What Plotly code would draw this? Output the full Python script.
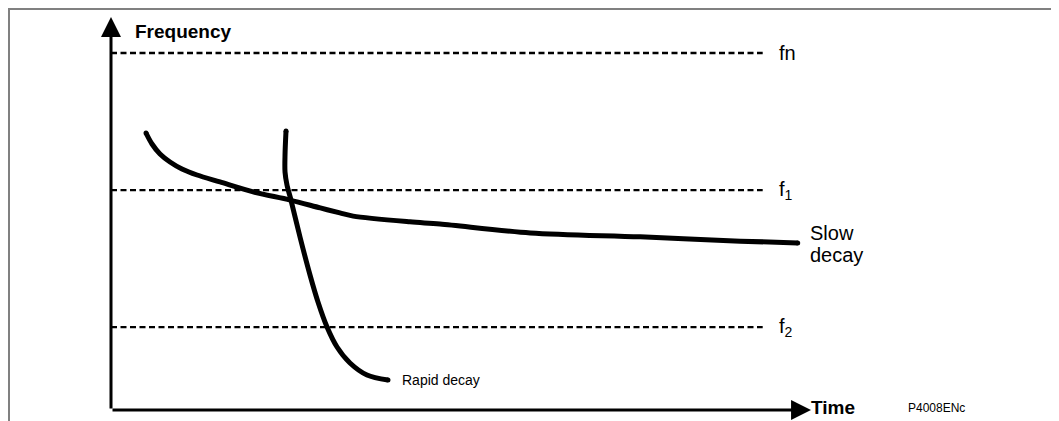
import plotly.graph_objects as go

# ---------------- data (arbitrary units: time 0..100, frequency 0..100 with fn = 100) ----
level_names = ["fn", "f1", "f2"]
level_values = [100.0, 61.6, 23.2]
level_labels = ["fn", "f<sub>1</sub>", "f<sub>2</sub>"]
level_end_time = 93.1

slow_t = [5.0, 5.86, 7.0, 8.43, 10.14, 12.29, 15.57, 20.3, 25.6, 29.9, 32.7, 34.6, 42.7, 47.0, 59.9, 75.6, 89.9, 98.1]
slow_f = [77.59, 74.51, 71.71, 69.47, 67.51, 65.83, 63.87, 61.1, 58.8, 56.6, 55.2, 54.3, 52.7, 52.1, 49.6, 48.5, 47.3, 46.8]

rapid_t = [25.0, 24.86, 24.86, 25.14, 25.71, 27.0, 28.43, 29.57, 30.86, 32.29, 34.14, 36.57, 39.57]
rapid_f = [78.15, 71.43, 66.67, 63.03, 58.82, 48.46, 37.82, 30.25, 23.25, 17.65, 13.17, 9.80, 8.40]

axis_time_max = 100.0
axis_freq_max = 110.1

# ---------------- figure geometry ----------------
# the page adds an 8 px body margin, so the figure is 8 px smaller on each axis
W, H = 1051, 413
ORIGIN_X, ORIGIN_Y = 103, 402          # pixel position of time=0 / freq=0 inside the figure
PX_PER_T, PX_PER_F = 7.0, 3.57
x_range = [-ORIGIN_X / PX_PER_T, (W - ORIGIN_X) / PX_PER_T]
y_range = [-(H - ORIGIN_Y) / PX_PER_F, ORIGIN_Y / PX_PER_F]

FONT = "Liberation Sans, Arial, Helvetica, sans-serif"

fig = go.Figure()

# dashed frequency levels
for name, val in zip(level_names, level_values):
    fig.add_trace(go.Scatter(
        x=[0, level_end_time], y=[val, val], mode="lines",
        line=dict(color="black", width=2.3, dash="6px,3.5px"),
        hoverinfo="skip", name=name))

# decay curves
fig.add_trace(go.Scatter(x=slow_t, y=slow_f, mode="lines",
                         line=dict(color="black", width=5, shape="spline", smoothing=0.9),
                         name="Slow decay", hoverinfo="skip"))
fig.add_trace(go.Scatter(x=rapid_t, y=rapid_f, mode="lines",
                         line=dict(color="black", width=5, shape="spline", smoothing=0.9),
                         name="Rapid decay", hoverinfo="skip"))
# round ends
fig.add_trace(go.Scatter(x=[slow_t[0], slow_t[-1], rapid_t[0], rapid_t[-1]],
                         y=[slow_f[0], slow_f[-1], rapid_f[0], rapid_f[-1]],
                         mode="markers", marker=dict(color="black", size=5),
                         hoverinfo="skip", showlegend=False))

annotations = []
# axis arrows
annotations.append(dict(x=0, y=axis_freq_max, ax=0, ay=0, xref="x", yref="y",
                        axref="x", ayref="y", text="", showarrow=True,
                        arrowhead=2, arrowwidth=3, arrowsize=1.33, arrowcolor="black",
                        standoff=0, startstandoff=0))
annotations.append(dict(x=axis_time_max, y=0, ax=0, ay=0, xref="x", yref="y",
                        axref="x", ayref="y", text="", showarrow=True,
                        arrowhead=2, arrowwidth=3, arrowsize=1.33, arrowcolor="black",
                        standoff=0, startstandoff=0))

# axis titles
annotations.append(dict(x=3.2, y=106.0, xref="x", yref="y", text="<b>Frequency</b>",
                        showarrow=False, xanchor="left", yanchor="middle",
                        font=dict(family=FONT, size=19, color="black")))
annotations.append(dict(x=99.7, y=0.84, xref="x", yref="y", text="<b>Time</b>",
                        showarrow=False, xanchor="left", yanchor="middle",
                        font=dict(family=FONT, size=19, color="black")))
annotations.append(dict(x=113.6, y=0.56, xref="x", yref="y", text="P4008ENc",
                        showarrow=False, xanchor="left", yanchor="middle",
                        font=dict(family=FONT, size=12, color="black")))

# level labels
for lab, val in zip(level_labels, level_values):
    annotations.append(dict(x=95.2, y=val, xref="x", yref="y", text=lab,
                            showarrow=False, xanchor="left", yanchor="middle",
                            font=dict(family=FONT, size=20, color="black")))

# curve labels
annotations.append(dict(x=99.6, y=49.7, xref="x", yref="y", text="Slow",
                        showarrow=False, xanchor="left", yanchor="middle",
                        font=dict(family=FONT, size=20, color="black")))
annotations.append(dict(x=99.6, y=43.3, xref="x", yref="y", text="decay",
                        showarrow=False, xanchor="left", yanchor="middle",
                        font=dict(family=FONT, size=20, color="black")))
annotations.append(dict(x=41.3, y=8.4, xref="x", yref="y", text="Rapid decay",
                        showarrow=False, xanchor="left", yanchor="middle",
                        font=dict(family=FONT, size=14, color="black")))

# frame (top and left grey edges)
shapes = [
    dict(type="line", xref="paper", yref="paper", x0=0, x1=1, y0=1 - 1 / H, y1=1 - 1 / H,
         line=dict(color="#808080", width=2)),
    dict(type="line", xref="paper", yref="paper", x0=1 / W, x1=1 / W, y0=0, y1=1,
         line=dict(color="#808080", width=2)),
]

fig.update_layout(
    width=W, height=H,
    margin=dict(l=0, r=0, t=0, b=0),
    paper_bgcolor="white", plot_bgcolor="white",
    showlegend=False,
    xaxis=dict(range=x_range, visible=False, fixedrange=True),
    yaxis=dict(range=y_range, visible=False, fixedrange=True),
    annotations=annotations,
    shapes=shapes,
)

fig.write_html("out.html")
